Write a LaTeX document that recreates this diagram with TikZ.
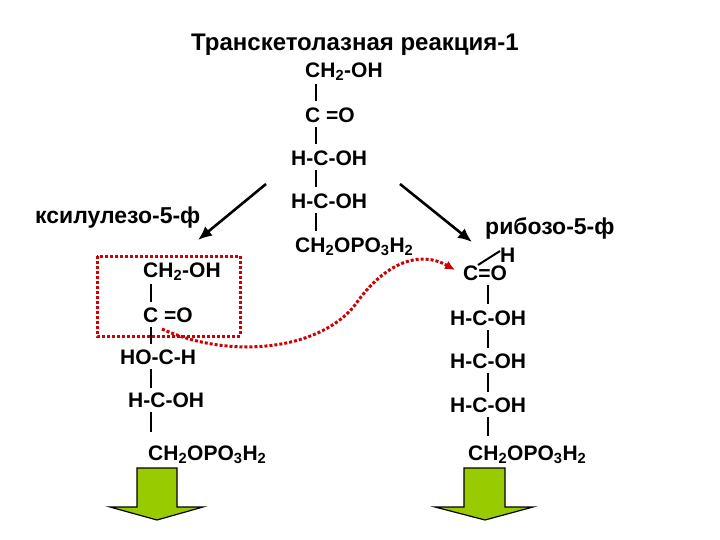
\documentclass[tikz,border=0pt]{standalone}
\usepackage{fontspec}
\setmainfont{Liberation Sans}
\usetikzlibrary{arrows.meta}
\begin{document}
\begin{tikzpicture}[x=1pt,y=-1pt,
  txt/.style={anchor=west,inner sep=0pt,font=\bfseries\fontsize{21}{24}\selectfont},
  lbl/.style={anchor=west,inner sep=0pt,font=\bfseries\fontsize{23}{26}\selectfont},
  bond/.style={line width=2pt},
  rarr/.style={line width=2.6pt,-{Latex[length=14pt,width=12pt]}},
  greenarr/.style={fill={rgb,255:red,153;green,204;blue,0},draw=black,line width=1.2pt}]
\useasboundingbox (0,0) rectangle (720,540);
\node[lbl,anchor=center,font=\bfseries\fontsize{24}{26}\selectfont] (title) at (355,45) {Транскетолазная реакция-1};
% middle column
\node[txt] (m1) at (305,72) {CH\textsubscript{2}-OH};
\node[txt] (m2) at (305,115) {C =O};
\node[txt] (m3) at (291,158) {H-C-OH};
\node[txt] (m4) at (291,201) {H-C-OH};
\node[txt] (m5) at (295,247) {CH\textsubscript{2}OPO\textsubscript{3}H\textsubscript{2}};
\draw[bond] (316,84) -- (316,101);
\draw[bond] (316,127) -- (316,144);
\draw[bond] (316,170) -- (316,187);
\draw[bond] (316,213) -- (316,231);
% arrows
\coordinate (la1) at (266,184); \coordinate (la2) at (198,240);
\coordinate (ra1) at (400,184); \coordinate (ra2) at (472,242);
\draw[rarr] (la1) -- (la2);
\draw[rarr] (ra1) -- (ra2);
\node[lbl] (xyl) at (35,218) {ксилулезо-5-ф};
\node[lbl] (rib) at (485,228) {рибозо-5-ф};
% left column
\node[txt] (l1) at (143,272) {CH\textsubscript{2}-OH};
\node[txt] (l2) at (143,315) {C =O};
\node[txt] (l3) at (120,357) {HO-C-H};
\node[txt] (l4) at (128,400) {H-C-OH};
\node[txt] (l5) at (148,455) {CH\textsubscript{2}OPO\textsubscript{3}H\textsubscript{2}};
\draw[bond] (151,284) -- (151,302);
\draw[bond] (151,327) -- (151,344);
\draw[bond] (151,369) -- (151,388);
\draw[bond] (151,412) -- (151,432);
% right column
\node[txt] (r0) at (500,255) {H};
\node[txt] (r1) at (463,273) {C=O};
\node[txt] (r2) at (450,318) {H-C-OH};
\node[txt] (r3) at (450,361) {H-C-OH};
\node[txt] (r4) at (450,405) {H-C-OH};
\node[txt] (r5) at (468,455) {CH\textsubscript{2}OPO\textsubscript{3}H\textsubscript{2}};
\draw[bond] (478,265) -- (500,251);
\draw[bond] (488,285) -- (488,304);
\draw[bond] (488,330) -- (488,348);
\draw[bond] (488,373) -- (488,392);
\draw[bond] (488,417) -- (488,436);
% red box and curve
\draw[line width=3pt,dotted,red!80!black] (97,256) rectangle (240,336);
\coordinate (c1) at (162,329); \coordinate (c2) at (455,270);
\draw[line width=3pt,dotted,red!80!black,-{Latex[length=10pt,width=9pt]}]
  (c1) .. controls (230,360) and (320,350) .. (355,305)
  .. controls (385,262) and (420,250) .. (c2);
% green arrows
\draw[greenarr] (137,468) -- (177,468) -- (177,507) -- (203,507) -- (157,520) -- (110,507) -- (137,507) -- cycle;
\draw[greenarr] (464,468) -- (505,468) -- (505,507) -- (533,507) -- (485,520) -- (435,507) -- (464,507) -- cycle;
\end{tikzpicture}
\end{document}
